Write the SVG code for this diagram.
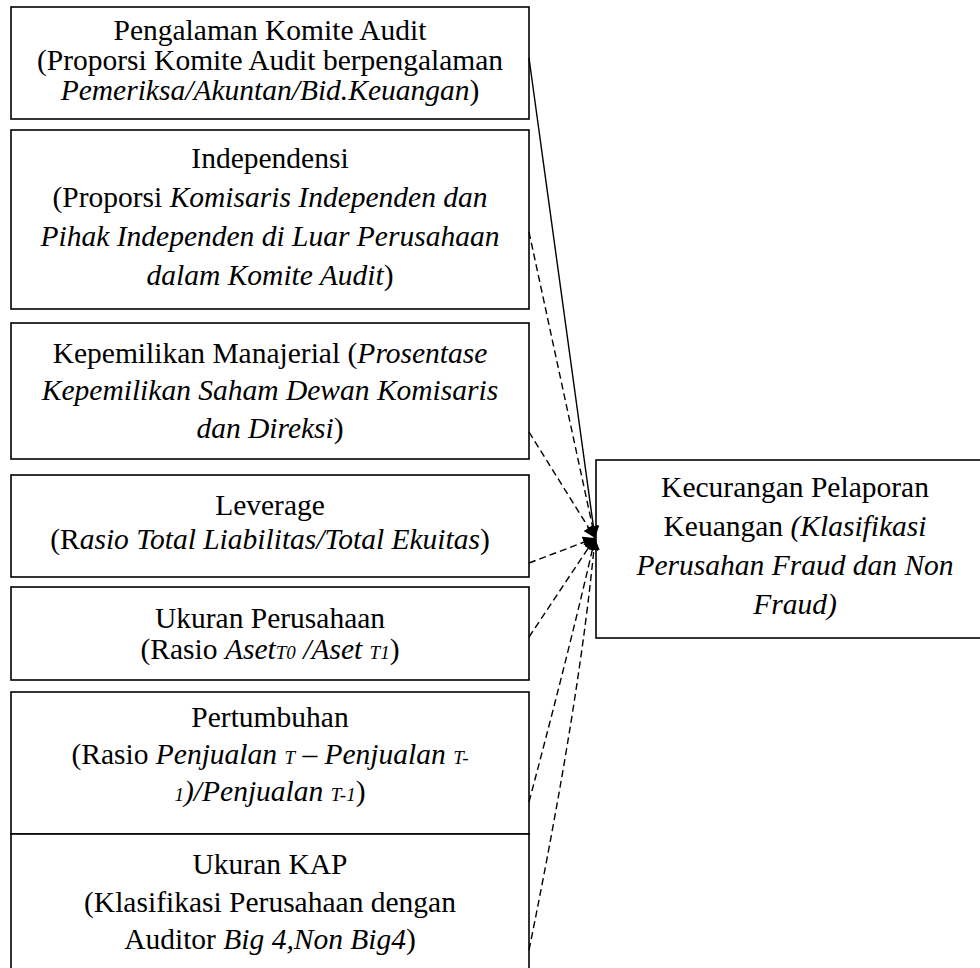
<svg xmlns="http://www.w3.org/2000/svg" width="980" height="968" viewBox="0 0 980 968">
<style>
.box{fill:#fff;stroke:#000;stroke-width:1.6}
.t{font-family:"Liberation Serif","Times New Roman",serif;font-size:29.5px;fill:#000;text-anchor:middle}
.i{font-style:italic}
.s{font-size:19px}
.solid{fill:none;stroke:#000;stroke-width:1.4}
.dash{fill:none;stroke:#000;stroke-width:1.4;stroke-dasharray:7 4}
</style>
<defs>
<marker id="ah" viewBox="0 0 10 10" refX="10" refY="5" markerWidth="12" markerHeight="12" markerUnits="userSpaceOnUse" orient="auto">
<path d="M0,0 L10,5 L0,10 z" fill="#000"/>
</marker>
</defs>
<rect width="980" height="968" fill="#fff"/>
<g id="n1">
<rect class="box" x="11" y="7" width="518" height="112"/>
<text class="t" x="270" y="40">Pengalaman Komite Audit</text>
<text class="t" x="270" y="70">(Proporsi Komite Audit berpengalaman</text>
<text class="t" x="270" y="100"><tspan class="i">Pemeriksa/Akuntan/Bid.Keuangan</tspan>)</text>
</g>
<g id="n2">
<rect class="box" x="11" y="130" width="518" height="179"/>
<text class="t" x="270" y="168">Independensi</text>
<text class="t" x="270" y="207">(Proporsi <tspan class="i">Komisaris Independen dan</tspan></text>
<text class="t" x="270" y="246"><tspan class="i">Pihak Independen di Luar Perusahaan</tspan></text>
<text class="t" x="270" y="285"><tspan class="i">dalam Komite Audit</tspan>)</text>
</g>
<g id="n3">
<rect class="box" x="11" y="323" width="518" height="136"/>
<text class="t" x="270" y="363">Kepemilikan Manajerial (<tspan class="i">Prosentase</tspan></text>
<text class="t" x="270" y="400"><tspan class="i">Kepemilikan Saham Dewan Komisaris</tspan></text>
<text class="t" x="270" y="438"><tspan class="i">dan Direksi</tspan>)</text>
</g>
<g id="n4">
<rect class="box" x="11" y="475" width="518" height="102"/>
<text class="t" x="270" y="515">Leverage</text>
<text class="t" x="270" y="549">(R<tspan class="i">asio Total Liabilitas/Total Ekuitas</tspan>)</text>
</g>
<g id="n5">
<rect class="box" x="11" y="587" width="518" height="93"/>
<text class="t" x="270" y="628">Ukuran Perusahaan</text>
<text class="t" x="270" y="659">(Rasio <tspan class="i">Aset</tspan><tspan class="i s">T0</tspan><tspan class="i"> /Aset </tspan><tspan class="i s">T1</tspan>)</text>
</g>
<g id="n6">
<rect class="box" x="11" y="692" width="518" height="142"/>
<text class="t" x="270" y="727">Pertumbuhan</text>
<text class="t" x="270" y="764">(Rasio <tspan class="i">Penjualan </tspan><tspan class="i s">T</tspan> – <tspan class="i">Penjualan </tspan><tspan class="i s">T-</tspan></text>
<text class="t" x="270" y="801"><tspan class="i s">1</tspan><tspan class="i">)/Penjualan </tspan><tspan class="i s">T-1</tspan>)</text>
</g>
<g id="n7">
<rect class="box" x="11" y="834" width="518" height="150"/>
<text class="t" x="270" y="874">Ukuran KAP</text>
<text class="t" x="270" y="912">(Klasifikasi Perusahaan dengan</text>
<text class="t" x="270" y="949">Auditor <tspan class="i">Big 4,Non Big4</tspan>)</text>
</g>
<g id="target">
<rect class="box" x="596" y="460" width="400" height="178"/>
<text class="t" x="795" y="497">Kecurangan Pelaporan</text>
<text class="t" x="795" y="536">Keuangan <tspan class="i">(Klasifikasi</tspan></text>
<text class="t" x="795" y="575"><tspan class="i">Perusahan Fraud dan Non</tspan></text>
<text class="t" x="795" y="614"><tspan class="i">Fraud)</tspan></text>
</g>
<g id="connectors">
<path class="solid" d="M529,58 L595,538" marker-end="url(#ah)"/>
<path class="dash" d="M529,232 L595,538" marker-end="url(#ah)"/>
<path class="dash" d="M529,432 L595,538" marker-end="url(#ah)"/>
<path class="dash" d="M529,563 L595,538" marker-end="url(#ah)"/>
<path class="dash" d="M529,637 L595,538" marker-end="url(#ah)"/>
<path class="dash" d="M529,802 Q572,640 595,538" marker-end="url(#ah)"/>
<path class="dash" d="M529,950 Q580,700 595,538" marker-end="url(#ah)"/>
</g>
</svg>
